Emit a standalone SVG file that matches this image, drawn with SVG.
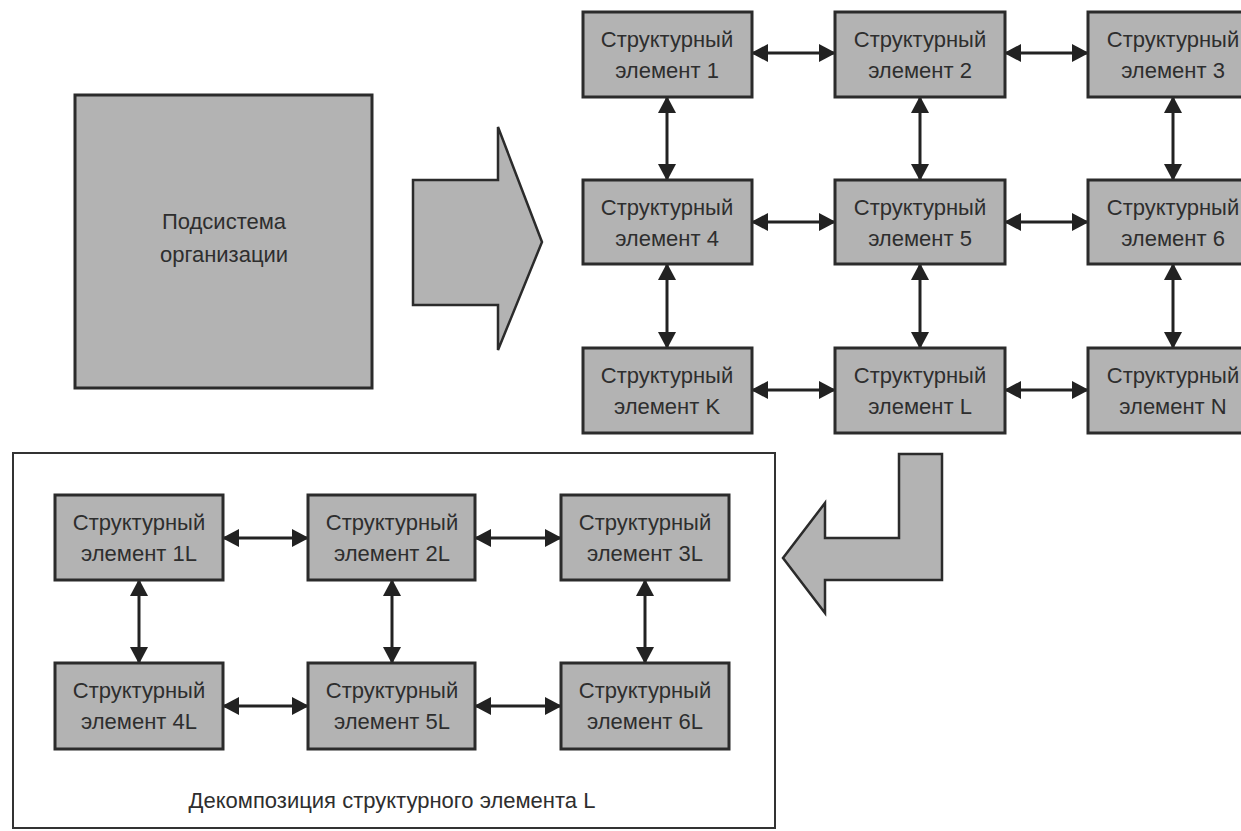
<svg xmlns="http://www.w3.org/2000/svg" width="1241" height="831" viewBox="0 0 1241 831">
<style>
.box{fill:#b3b3b3;stroke:#2b2b2b;stroke-width:3}
.big{fill:#b3b3b3;stroke:#2b2b2b;stroke-width:2.5}
.t{font-family:"Liberation Sans",Arial,sans-serif;font-size:22px;fill:#2e2e2e;text-anchor:middle}
.c{stroke:#222;stroke-width:3;fill:none;marker-start:url(#ah);marker-end:url(#ah)}
.frame{fill:none;stroke:#333;stroke-width:2}
</style>
<defs>
<marker id="ah" markerUnits="userSpaceOnUse" markerWidth="17" markerHeight="18" refX="16" refY="9" orient="auto-start-reverse" viewBox="0 0 17 18">
<path d="M0,0 L17,9 L0,18 z" fill="#222"/>
</marker>
</defs>
<rect width="1241" height="831" fill="#fff"/>

<g id="subsystem">
<rect class="box" x="75" y="95" width="297" height="293"/>
<text class="t" x="224" y="229">Подсистема</text>
<text class="t" x="224" y="262">организации</text>
</g>

<g id="bigArrow">
<path class="big" d="M413,180 L498,180 L498,127 L542,242 L498,350 L498,305 L413,305 Z"/>
</g>

<g id="bentArrow">
<path class="big" d="M899,454 L942,454 L942,580 L825,580 L825,613 L783,558 L825,503 L825,538 L899,538 Z"/>
</g>

<g id="frame">
<rect class="frame" x="13" y="453" width="762" height="375"/>
<text class="t" x="392" y="808">Декомпозиция структурного элемента L</text>
</g>

<g id="connectors">
<line class="c" x1="752" y1="53" x2="835" y2="53"/>
<line class="c" x1="1005" y1="53" x2="1088" y2="53"/>
<line class="c" x1="752" y1="222" x2="835" y2="222"/>
<line class="c" x1="1005" y1="222" x2="1088" y2="222"/>
<line class="c" x1="752" y1="390" x2="835" y2="390"/>
<line class="c" x1="1005" y1="390" x2="1088" y2="390"/>
<line class="c" x1="667" y1="97" x2="667" y2="180"/>
<line class="c" x1="920" y1="97" x2="920" y2="180"/>
<line class="c" x1="1173" y1="97" x2="1173" y2="180"/>
<line class="c" x1="667" y1="264" x2="667" y2="348"/>
<line class="c" x1="920" y1="264" x2="920" y2="348"/>
<line class="c" x1="1173" y1="264" x2="1173" y2="348"/>
<line class="c" x1="223" y1="538" x2="308" y2="538"/>
<line class="c" x1="475" y1="538" x2="561" y2="538"/>
<line class="c" x1="223" y1="706" x2="308" y2="706"/>
<line class="c" x1="475" y1="706" x2="561" y2="706"/>
<line class="c" x1="139" y1="580" x2="139" y2="663"/>
<line class="c" x1="392" y1="580" x2="392" y2="663"/>
<line class="c" x1="645" y1="580" x2="645" y2="663"/>
</g>

<g id="e1"><rect class="box" x="583" y="12" width="169" height="85"/><text class="t" x="667" y="47">Структурный</text><text class="t" x="667" y="78">элемент 1</text></g>
<g id="e2"><rect class="box" x="835" y="12" width="170" height="85"/><text class="t" x="920" y="47">Структурный</text><text class="t" x="920" y="78">элемент 2</text></g>
<g id="e3"><rect class="box" x="1088" y="12" width="170" height="85"/><text class="t" x="1173" y="47">Структурный</text><text class="t" x="1173" y="78">элемент 3</text></g>
<g id="e4"><rect class="box" x="583" y="180" width="169" height="84"/><text class="t" x="667" y="215">Структурный</text><text class="t" x="667" y="246">элемент 4</text></g>
<g id="e5"><rect class="box" x="835" y="180" width="170" height="84"/><text class="t" x="920" y="215">Структурный</text><text class="t" x="920" y="246">элемент 5</text></g>
<g id="e6"><rect class="box" x="1088" y="180" width="170" height="84"/><text class="t" x="1173" y="215">Структурный</text><text class="t" x="1173" y="246">элемент 6</text></g>
<g id="eK"><rect class="box" x="583" y="348" width="169" height="85"/><text class="t" x="667" y="383">Структурный</text><text class="t" x="667" y="414">элемент K</text></g>
<g id="eL"><rect class="box" x="835" y="348" width="170" height="85"/><text class="t" x="920" y="383">Структурный</text><text class="t" x="920" y="414">элемент L</text></g>
<g id="eN"><rect class="box" x="1088" y="348" width="170" height="85"/><text class="t" x="1173" y="383">Структурный</text><text class="t" x="1173" y="414">элемент N</text></g>

<g id="e1L"><rect class="box" x="55" y="495" width="168" height="85"/><text class="t" x="139" y="530">Структурный</text><text class="t" x="139" y="561">элемент 1L</text></g>
<g id="e2L"><rect class="box" x="308" y="495" width="167" height="85"/><text class="t" x="392" y="530">Структурный</text><text class="t" x="392" y="561">элемент 2L</text></g>
<g id="e3L"><rect class="box" x="561" y="495" width="168" height="85"/><text class="t" x="645" y="530">Структурный</text><text class="t" x="645" y="561">элемент 3L</text></g>
<g id="e4L"><rect class="box" x="55" y="663" width="168" height="86"/><text class="t" x="139" y="698">Структурный</text><text class="t" x="139" y="729">элемент 4L</text></g>
<g id="e5L"><rect class="box" x="308" y="663" width="167" height="86"/><text class="t" x="392" y="698">Структурный</text><text class="t" x="392" y="729">элемент 5L</text></g>
<g id="e6L"><rect class="box" x="561" y="663" width="168" height="86"/><text class="t" x="645" y="698">Структурный</text><text class="t" x="645" y="729">элемент 6L</text></g>
</svg>
